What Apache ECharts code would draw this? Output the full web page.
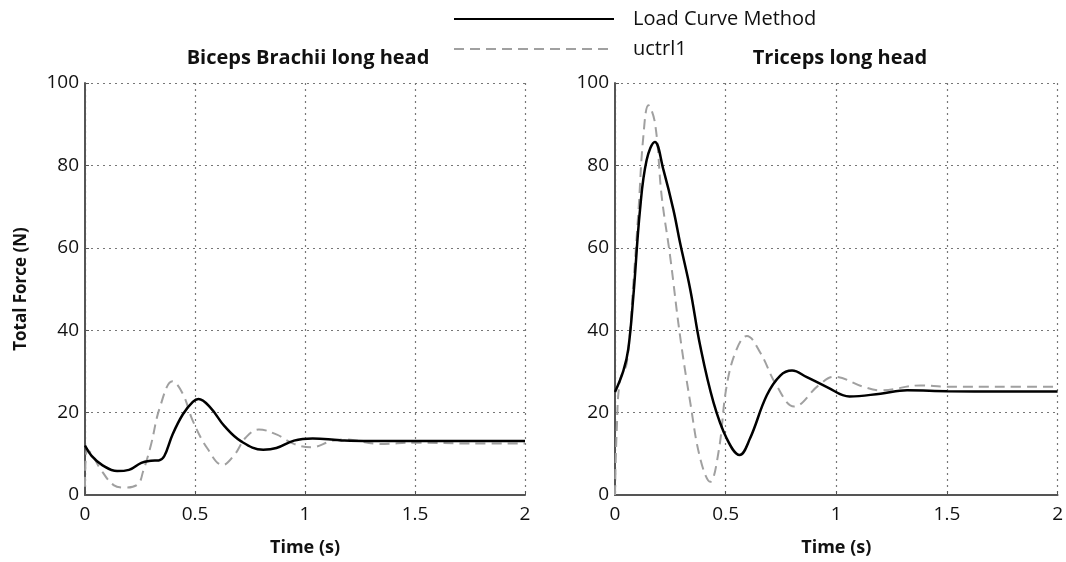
<!DOCTYPE html>
<html>
<head>
<meta charset="utf-8">
<script src="https://cdn.jsdelivr.net/npm/echarts@6/dist/echarts.min.js"></script>
<style>
  html, body { margin: 0; padding: 0; background: #fff; }
  #chart { width: 1066px; height: 562px; }
</style>
</head>
<body>
<div id="chart"></div>
<script>
// Biceps Brachii long head
var bicepsLoadT = [0, 0.03, 0.08, 0.146, 0.2, 0.256, 0.3, 0.335, 0.36, 0.398, 0.445, 0.49, 0.516, 0.57, 0.634, 0.71, 0.81, 0.87, 0.95, 1.035, 1.12, 1.18, 1.3, 1.5, 1.75, 2];
var bicepsLoadV = [12, 9.5, 7.2, 5.8, 6.1, 7.8, 8.3, 8.4, 9.4, 14.7, 19.6, 22.6, 23.3, 21.2, 16.7, 13, 11, 11.4, 13.2, 13.7, 13.5, 13.2, 13.1, 13.1, 13.1, 13.1];
var bicepsCtrlT = [0, 0.01, 0.03, 0.068, 0.13, 0.178, 0.24, 0.264, 0.3, 0.34, 0.398, 0.445, 0.49, 0.555, 0.626, 0.68, 0.73, 0.79, 0.87, 0.95, 1.03, 1.12, 1.18, 1.34, 1.5, 1.75, 2];
var bicepsCtrlV = [2, 11, 10, 6.5, 2.4, 1.8, 2.6, 5.7, 12.2, 21.2, 27.6, 24.5, 18, 11.4, 7.3, 9.8, 13.9, 15.9, 14.7, 12.4, 11.6, 13.1, 13.5, 12.4, 12.7, 12.5, 12.5];

// Triceps long head
var tricepsLoadT = [0, 0.038, 0.06, 0.083, 0.113, 0.143, 0.18, 0.219, 0.264, 0.294, 0.34, 0.385, 0.445, 0.505, 0.563, 0.61, 0.686, 0.747, 0.8, 0.867, 0.958, 1.06, 1.2, 1.32, 1.5, 1.75, 2];
var tricepsLoadV = [25, 30.2, 35.4, 48.3, 69.2, 81.3, 85.7, 78.9, 69.2, 61.2, 49.9, 36.2, 22.5, 13.7, 9.7, 13.7, 24.2, 29, 30.2, 28.6, 26.2, 23.9, 24.6, 25.4, 25.2, 25.1, 25.1];
var tricepsCtrlT = [0, 0.008, 0.023, 0.053, 0.083, 0.106, 0.128, 0.151, 0.181, 0.211, 0.249, 0.294, 0.34, 0.385, 0.43, 0.468, 0.505, 0.55, 0.596, 0.656, 0.73, 0.81, 0.92, 0.99, 1.12, 1.2, 1.38, 1.5, 1.75, 2];
var tricepsCtrlV = [0, 16, 28, 32, 51.5, 69, 87, 94.6, 90.2, 72.5, 58, 38.6, 22.5, 8.9, 3.2, 10.5, 26.6, 35.4, 38.6, 34.6, 26.6, 21.5, 26.6, 28.7, 26.3, 25.4, 26.6, 26.3, 26.3, 26.3];

var seriesNames = ['Load Curve Method', 'uctrl1'];
var panelTitles = ['Biceps Brachii long head', 'Triceps long head'];

function pairs(t, v) {
  var out = [];
  for (var i = 0; i < t.length; i++) out.push([t[i], v[i]]);
  return out;
}

var font = "'Open Sans', sans-serif";
var grids = [
  { left: 85, right: 541, top: 83, bottom: 65 },
  { left: 615, right: 8, top: 83, bottom: 65 }
];

function xAx(idx) {
  return {
    type: 'value', gridIndex: idx, min: 0, max: 2, interval: 0.5,
    name: 'Time (s)', nameLocation: 'middle', nameGap: 44,
    nameTextStyle: { fontFamily: font, fontSize: 18, fontWeight: 'bold', color: '#111' },
    axisLine: { show: true, lineStyle: { color: '#555', width: 2 } },
    axisTick: { show: true, inside: true, length: 4, lineStyle: { color: '#555' } },
    axisLabel: { fontFamily: font, fontSize: 19, color: '#111', margin: 10 },
    splitLine: { show: true, lineStyle: { color: '#777', type: [2, 4], width: 1.2 } }
  };
}
function yAx(idx) {
  return {
    type: 'value', gridIndex: idx, min: 0, max: 100, interval: 20,
    name: idx === 0 ? 'Total Force (N)' : '', nameLocation: 'middle', nameGap: 55, nameRotate: 90,
    nameTextStyle: { fontFamily: font, fontSize: 17, fontWeight: 'bold', color: '#111' },
    axisLine: { show: true, lineStyle: { color: '#555', width: 2 } },
    axisTick: { show: true, inside: true, length: 4, lineStyle: { color: '#555' } },
    axisLabel: { fontFamily: font, fontSize: 19, color: '#111', margin: 6 },
    splitLine: { show: true, lineStyle: { color: '#777', type: [2, 4], width: 1.2 } }
  };
}

var solidStyle = { color: '#000', width: 2.5, type: 'solid' };
var dashStyle = { color: '#a0a0a0', width: 2, type: [10, 6] };

function line(name, idx, t, v, style, z) {
  return {
    name: name, type: 'line', xAxisIndex: idx, yAxisIndex: idx,
    data: pairs(t, v), smooth: 0.4, showSymbol: false, symbol: 'none',
    lineStyle: style, itemStyle: { color: style.color }, z: z, animation: false
  };
}

var chart = echarts.init(document.getElementById('chart'));
chart.setOption({
  backgroundColor: '#fff',
  animation: false,
  title: [
    { text: panelTitles[0], left: 303, top: 43, textAlign: 'center',
      textStyle: { fontFamily: font, fontSize: 20, fontWeight: 'bold', color: '#111' } },
    { text: panelTitles[1], left: 835, top: 43, textAlign: 'center',
      textStyle: { fontFamily: font, fontSize: 20, fontWeight: 'bold', color: '#111' } }
  ],
  legend: {
    data: seriesNames, orient: 'vertical', left: 448, top: 4,
    itemWidth: 160, itemHeight: 14, itemGap: 10,
    itemStyle: { opacity: 0 },
    textStyle: { fontFamily: font, fontSize: 20, color: '#111', padding: [0, 0, 0, 14] }
  },
  grid: grids,
  xAxis: [xAx(0), xAx(1)],
  yAxis: [yAx(0), yAx(1)],
  series: [
    line(seriesNames[1], 0, bicepsCtrlT, bicepsCtrlV, dashStyle, 2),
    line(seriesNames[0], 0, bicepsLoadT, bicepsLoadV, solidStyle, 3),
    line(seriesNames[1], 1, tricepsCtrlT, tricepsCtrlV, dashStyle, 2),
    line(seriesNames[0], 1, tricepsLoadT, tricepsLoadV, solidStyle, 3)
  ]
});
</script>
</body>
</html>
